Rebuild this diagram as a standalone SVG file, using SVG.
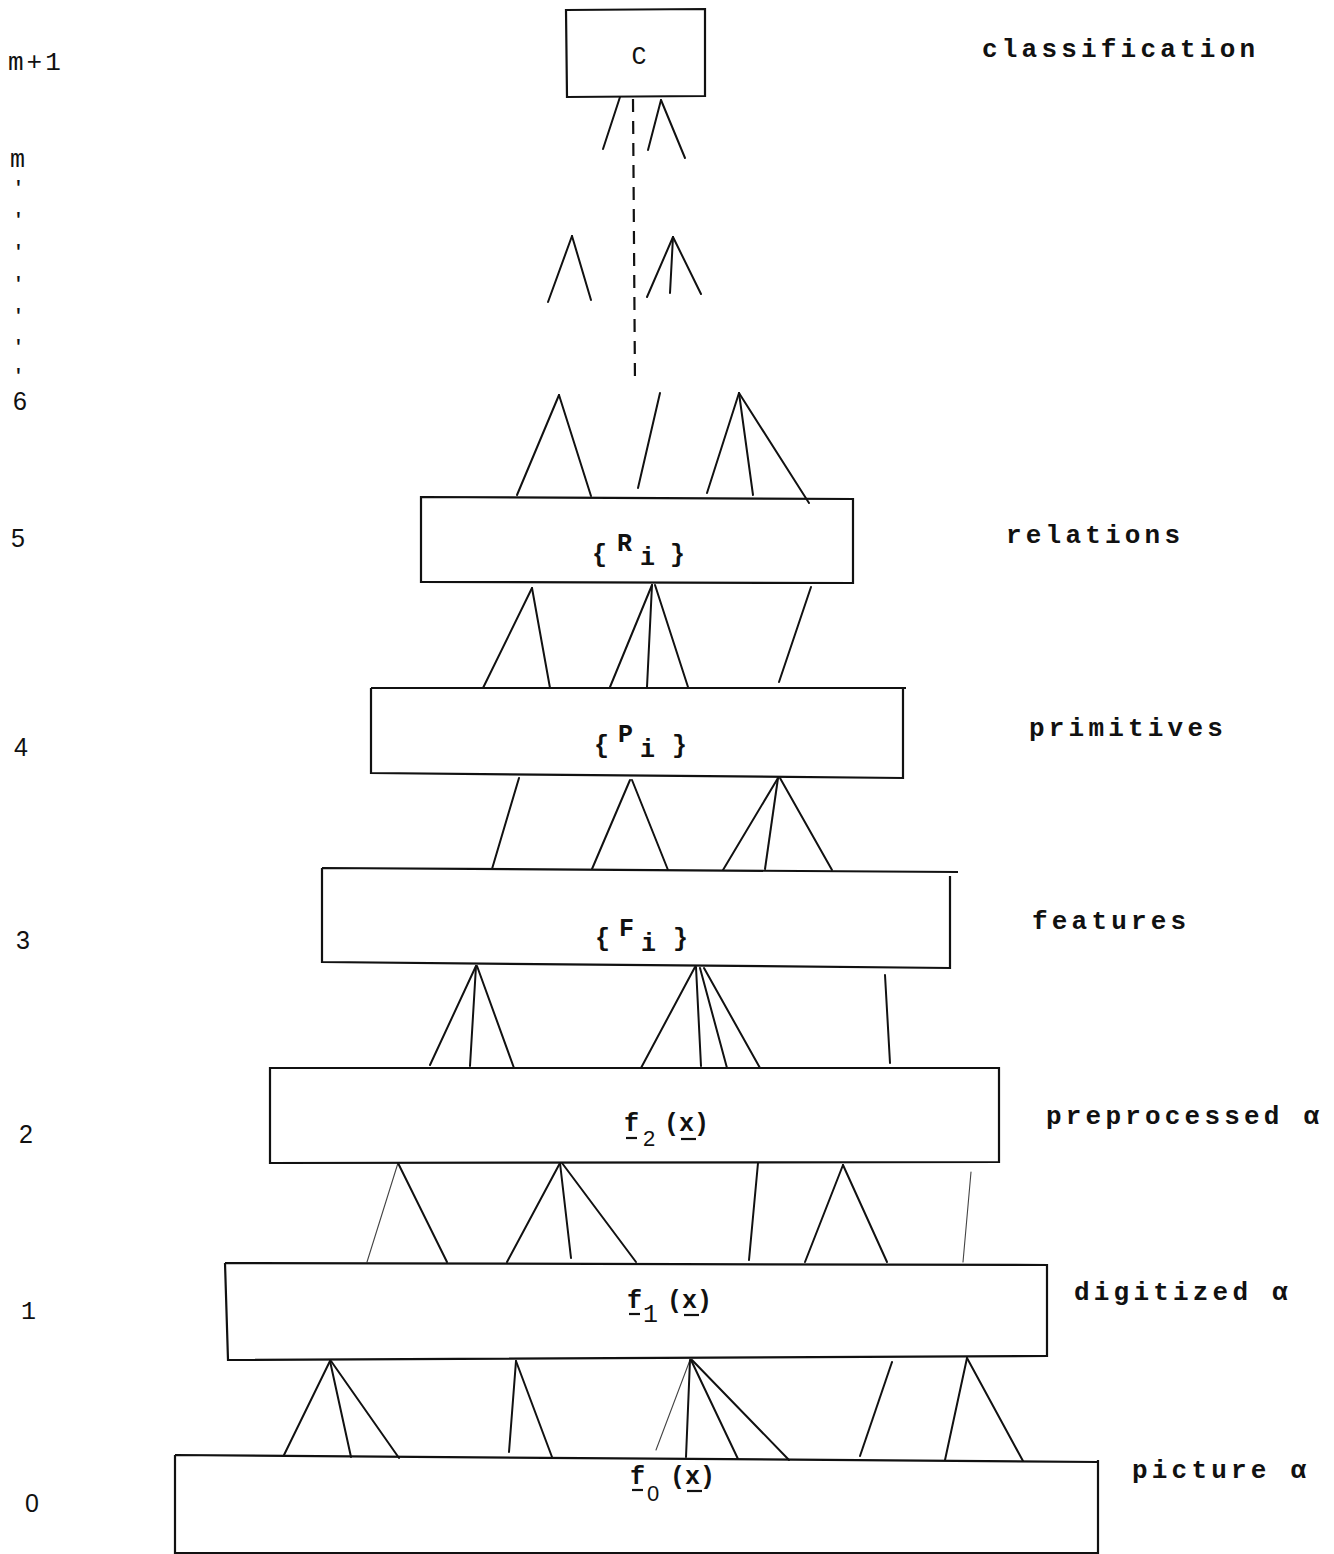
<svg xmlns="http://www.w3.org/2000/svg" width="1334" height="1554" viewBox="0 0 1334 1554">
<style>
.box{fill:none;stroke:#111;stroke-width:2.2;stroke-linejoin:miter}
.ln{fill:none;stroke:#111;stroke-width:2;stroke-linecap:round}
.thin{stroke-width:1.1;stroke:#444}
.dash{stroke-dasharray:13 9;stroke-width:2.2;stroke-linecap:butt}
.tw{font-family:"Liberation Mono","Courier New",monospace;font-size:25px;fill:#111}
.twb{font-family:"Liberation Mono","Courier New",monospace;font-size:25px;fill:#111;font-weight:bold}
.tk{font-family:"Liberation Mono","Courier New",monospace;font-size:18px;fill:#111;font-weight:bold}
.lbl{font-family:"Liberation Mono","Courier New",monospace;font-size:26px;fill:#111;letter-spacing:4.2px;font-weight:bold}
.lv{font-family:"Liberation Mono","Courier New",monospace;font-size:26px;fill:#111;letter-spacing:3px}
.num{font-family:"Liberation Sans",Arial,sans-serif;font-size:25px;fill:#111}
.bx{font-family:"Liberation Mono","Courier New",monospace;font-size:25px;fill:#111;font-weight:bold}
.sub{font-family:"Liberation Sans",Arial,sans-serif;font-size:22px;fill:#111}
.ul{stroke:#111;stroke-width:2.2}
</style>
<rect width="1334" height="1554" fill="#fff"/>

<g id="levels">
<text class="lv" x="8" y="70">m+1</text>
<text class="tw" x="10" y="167">m</text>
<text class="tk" x="13" y="193">'</text>
<text class="tk" x="13" y="225">'</text>
<text class="tk" x="13" y="257">'</text>
<text class="tk" x="13" y="289">'</text>
<text class="tk" x="13" y="321">'</text>
<text class="tk" x="13" y="352">'</text>
<text class="tk" x="13" y="381">'</text>
<text class="num" x="13" y="410">6</text>
<text class="num" x="11" y="547">5</text>
<text class="num" x="14" y="756">4</text>
<text class="num" x="16" y="949">3</text>
<text class="num" x="19" y="1143">2</text>
<text class="tw" x="21" y="1319">1</text>
<text class="num" x="25" y="1512">0</text>
</g>

<g id="names">
<text class="lbl" x="982" y="57">classification</text>
<text class="lbl" x="1006" y="543">relations</text>
<text class="lbl" x="1029" y="736">primitives</text>
<text class="lbl" x="1032" y="929">features</text>
<text class="lbl" x="1046" y="1124">preprocessed α</text>
<text class="lbl" x="1074" y="1300">digitized α</text>
<text class="lbl" x="1132" y="1478">picture α</text>
</g>

<g id="connectors">
<line class="ln" x1="620" y1="97" x2="603" y2="149"/>
<line class="ln" x1="661" y1="100" x2="648" y2="150"/>
<line class="ln" x1="661" y1="100" x2="685" y2="158"/>
<line class="ln dash" x1="633" y1="99" x2="635" y2="385"/>
<line class="ln" x1="572" y1="236" x2="548" y2="302"/>
<line class="ln" x1="572" y1="236" x2="591" y2="300"/>
<line class="ln" x1="673" y1="237" x2="647" y2="297"/>
<line class="ln" x1="673" y1="237" x2="670" y2="293"/>
<line class="ln" x1="673" y1="237" x2="701" y2="294"/>

<line class="ln" x1="559" y1="395" x2="517" y2="495"/>
<line class="ln" x1="559" y1="395" x2="591" y2="496"/>
<line class="ln" x1="660" y1="393" x2="638" y2="488"/>
<line class="ln" x1="739" y1="393" x2="707" y2="493"/>
<line class="ln" x1="739" y1="393" x2="753" y2="495"/>
<line class="ln" x1="739" y1="393" x2="809" y2="503"/>

<line class="ln" x1="532" y1="588" x2="483" y2="688"/>
<line class="ln" x1="532" y1="588" x2="550" y2="688"/>
<line class="ln" x1="652" y1="585" x2="610" y2="687"/>
<line class="ln" x1="652" y1="585" x2="647" y2="687"/>
<line class="ln" x1="655" y1="585" x2="688" y2="687"/>
<line class="ln" x1="811" y1="587" x2="779" y2="682"/>

<line class="ln" x1="519" y1="778" x2="492" y2="869"/>
<line class="ln" x1="630" y1="780" x2="592" y2="869"/>
<line class="ln" x1="632" y1="780" x2="668" y2="870"/>
<line class="ln" x1="778" y1="778" x2="723" y2="870"/>
<line class="ln" x1="778" y1="778" x2="765" y2="869"/>
<line class="ln" x1="780" y1="778" x2="832" y2="870"/>

<line class="ln" x1="476" y1="966" x2="430" y2="1065"/>
<line class="ln" x1="476" y1="966" x2="470" y2="1066"/>
<line class="ln" x1="477" y1="966" x2="514" y2="1068"/>
<line class="ln" x1="695" y1="967" x2="641" y2="1068"/>
<line class="ln" x1="696" y1="967" x2="701" y2="1066"/>
<line class="ln" x1="700" y1="968" x2="727" y2="1068"/>
<line class="ln" x1="704" y1="968" x2="760" y2="1068"/>
<line class="ln" x1="885" y1="975" x2="890" y2="1063"/>

<line class="ln thin" x1="398" y1="1163" x2="367" y2="1262"/>
<line class="ln" x1="398" y1="1163" x2="447" y2="1262"/>
<line class="ln" x1="560" y1="1163" x2="507" y2="1262"/>
<line class="ln" x1="560" y1="1163" x2="571" y2="1258"/>
<line class="ln" x1="562" y1="1163" x2="636" y2="1262"/>
<line class="ln" x1="758" y1="1163" x2="749" y2="1260"/>
<line class="ln" x1="843" y1="1165" x2="805" y2="1262"/>
<line class="ln" x1="843" y1="1165" x2="887" y2="1262"/>
<line class="ln thin" x1="971" y1="1172" x2="963" y2="1262"/>

<line class="ln" x1="330" y1="1361" x2="284" y2="1455"/>
<line class="ln" x1="330" y1="1361" x2="351" y2="1457"/>
<line class="ln" x1="331" y1="1361" x2="399" y2="1458"/>
<line class="ln" x1="516" y1="1361" x2="509" y2="1452"/>
<line class="ln" x1="516" y1="1361" x2="552" y2="1457"/>
<line class="ln thin" x1="690" y1="1360" x2="656" y2="1450"/>
<line class="ln" x1="690" y1="1360" x2="686" y2="1457"/>
<line class="ln" x1="691" y1="1360" x2="738" y2="1459"/>
<line class="ln" x1="692" y1="1360" x2="789" y2="1460"/>
<line class="ln" x1="892" y1="1362" x2="860" y2="1456"/>
<line class="ln" x1="967" y1="1358" x2="945" y2="1460"/>
<line class="ln" x1="967" y1="1358" x2="1023" y2="1461"/>
</g>

<g id="node-C">
<path class="box" d="M566,10 L705,9 L705,96 L567,97 Z"/>
<text class="tw" x="639" y="64" text-anchor="middle">C</text>
</g>

<g id="node-R">
<path class="box" d="M421,497 L853,499 L853,583 L421,582 Z"/>
<text class="bx" x="592" y="562">{</text>
<text class="bx" x="617" y="551" font-size="21">R</text>
<text class="bx" x="640" y="565">i</text>
<text class="bx" x="670" y="562">}</text>
</g>

<g id="node-P">
<path class="box" d="M371,688 L906,688 M903,688 L903,778 L371,773 L371,688"/>
<text class="bx" x="594" y="753">{</text>
<text class="bx" x="618" y="742" font-size="21">P</text>
<text class="bx" x="640" y="757">i</text>
<text class="bx" x="672" y="753">}</text>
</g>

<g id="node-F">
<path class="box" d="M322,868 L958,872 M950,876 L950,968 L322,962 L322,868"/>
<text class="bx" x="595" y="946">{</text>
<text class="bx" x="619" y="936" font-size="21">F</text>
<text class="bx" x="641" y="951">i</text>
<text class="bx" x="673" y="946">}</text>
</g>

<g id="node-f2">
<path class="box" d="M270,1068 L999,1068 L999,1162 L270,1163 Z"/>
<text class="twb" x="624" y="1131">f</text>
<text class="sub" x="643" y="1146">2</text>
<text class="twb" x="664" y="1131">(x)</text>
<line class="ul" x1="626" y1="1138" x2="637" y2="1138"/>
<line class="ul" x1="681" y1="1139" x2="696" y2="1139"/>
</g>

<g id="node-f1">
<path class="box" d="M225,1263 L1047,1265 L1047,1356 L228,1360 L225,1263"/>
<text class="twb" x="627" y="1308">f</text>
<text class="tw" x="643" y="1322" font-size="22">1</text>
<text class="twb" x="667" y="1308">(x)</text>
<line class="ul" x1="629" y1="1314" x2="640" y2="1314"/>
<line class="ul" x1="684" y1="1315" x2="699" y2="1315"/>
</g>

<g id="node-f0">
<path class="box" d="M175,1455 L1098,1462 M1098,1460 L1098,1553 L175,1553 L175,1455"/>
<text class="twb" x="630" y="1484">f</text>
<text class="sub" x="647" y="1501">0</text>
<text class="twb" x="670" y="1484">(x)</text>
<line class="ul" x1="632" y1="1490" x2="643" y2="1490"/>
<line class="ul" x1="687" y1="1491" x2="702" y2="1491"/>
</g>
</svg>
